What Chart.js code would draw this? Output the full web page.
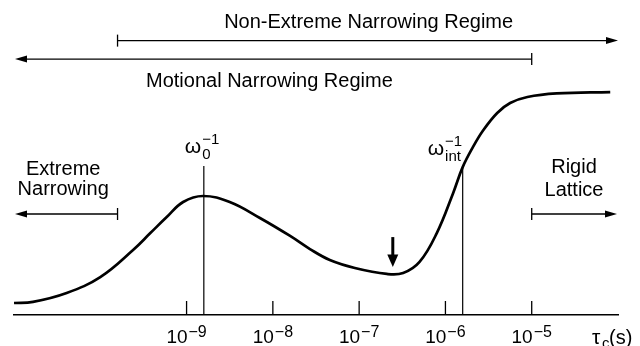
<!DOCTYPE html>
<html lang="en">
<head>
<meta charset="UTF-8">
<title>Relaxation vs correlation time</title>
<style>
  html, body { margin: 0; padding: 0; background: #fff; }
  #wrap { position: relative; width: 640px; height: 346px; }
</style>
</head>
<body>
<div id="wrap"><canvas id="myChart"></canvas></div>
<script src="https://cdn.jsdelivr.net/npm/chart.js"></script>
<script>
// log10 of the correlation time tau_c (s)
var logTau = [-11.0, -10.78, -10.39, -10.0, -9.62, -9.42, -9.23, -9.04, -8.81, -8.50,
              -8.15, -7.80, -7.57, -7.34, -7.05, -6.68, -6.49, -6.30, -6.10, -5.91,
              -5.80, -5.68, -5.56, -5.40, -5.25, -5.05, -4.71, -4.09];
// curve height, arbitrary units (rigid lattice plateau = 1)
var relax = [0.054, 0.059, 0.099, 0.171, 0.293, 0.369, 0.441, 0.509, 0.536, 0.509,
             0.437, 0.356, 0.297, 0.248, 0.212, 0.185, 0.189, 0.239, 0.369, 0.550,
             0.666, 0.757, 0.833, 0.910, 0.955, 0.982, 0.998, 1.004];
// decades with a tick mark and label
var tickDecades = [-9, -8, -7, -6, -5];
var tickExponents = ['\u22129', '\u22128', '\u22127', '\u22126', '\u22125'];
// omega_0^-1 and omega_int^-1 markers
var omega0 = -8.80, omega0Top = 0.671;
var omegaInt = -5.80, omegaIntTop = 0.666;
// regime boundaries
var extremeEdge = -9.8, rigidEdge = -5.0;
// minimum of the curve
var minArrowAt = -6.61;

var FONT = "'Liberation Sans', Arial, Helvetica, sans-serif";

function arrowHead(ctx, x, y, dir) {
  ctx.beginPath();
  ctx.moveTo(x, y);
  ctx.lineTo(x - dir * 12, y - 3.5);
  ctx.lineTo(x - dir * 12, y + 3.5);
  ctx.closePath();
  ctx.fill();
}

// horizontal range arrow; ends are 'head' or 'bar'
function rangeArrow(ctx, x1, x2, y, left, right) {
  ctx.beginPath();
  ctx.moveTo(left === 'head' ? x1 + 6 : x1, y);
  ctx.lineTo(right === 'head' ? x2 - 6 : x2, y);
  ctx.stroke();
  if (left === 'head') arrowHead(ctx, x1, y, -1);
  else { ctx.beginPath(); ctx.moveTo(x1, y - 6); ctx.lineTo(x1, y + 6); ctx.stroke(); }
  if (right === 'head') arrowHead(ctx, x2, y, 1);
  else { ctx.beginPath(); ctx.moveTo(x2, y - 6); ctx.lineTo(x2, y + 6); ctx.stroke(); }
}

function text(ctx, s, x, y, size, align) {
  ctx.font = size + 'px ' + FONT;
  ctx.textAlign = align || 'center';
  ctx.fillText(s, x, y);
}

// omega with superscript -1 and a subscript
function omegaLabel(ctx, x, y, sub) {
  ctx.textAlign = 'left';
  ctx.font = '21px ' + FONT;
  ctx.fillText('\u03c9', x, y);
  var w = ctx.measureText('\u03c9').width + 1;
  ctx.font = '15px ' + FONT;
  ctx.fillText('\u22121', x + w, y - 9);
  ctx.fillText(sub, x + w, y + 6);
}

var annotations = {
  id: 'annotations',
  afterDraw: function (chart) {
    var ctx = chart.ctx;
    var xs = chart.scales.x, ys = chart.scales.y;
    var area = chart.chartArea;
    var px = function (v) { return xs.getPixelForValue(v); };
    var py = function (v) { return ys.getPixelForValue(v); };
    ctx.save();
    ctx.fillStyle = '#000';
    ctx.strokeStyle = '#000';
    ctx.lineWidth = 1.3;
    ctx.textBaseline = 'alphabetic';

    // inward tick marks and decade labels
    tickDecades.forEach(function (d, i) {
      var x = px(d);
      ctx.beginPath();
      ctx.moveTo(x, area.bottom);
      ctx.lineTo(x, area.bottom - 14);
      ctx.stroke();
      ctx.font = '19px ' + FONT;
      var w1 = ctx.measureText('10').width;
      ctx.font = '16px ' + FONT;
      var w2 = ctx.measureText(tickExponents[i]).width;
      var left = x - (w1 + w2 + 1) / 2;
      text(ctx, '10', left, area.bottom + 28, 19, 'left');
      text(ctx, tickExponents[i], left + w1 + 1, area.bottom + 22, 16, 'left');
    });

    // axis title tau_c (s)
    text(ctx, '\u03c4', 592, area.bottom + 29, 21, 'left');
    text(ctx, 'c', 602, area.bottom + 33, 15, 'left');
    text(ctx, '(s)', 609, area.bottom + 29, 20, 'left');

    // regime ranges along the top
    rangeArrow(ctx, px(extremeEdge), px(-4.0), py(1.236), 'bar', 'head');
    text(ctx, 'Non-Extreme Narrowing Regime', px(-6.89), py(1.291), 20);
    rangeArrow(ctx, px(-11.0) + 1, px(rigidEdge), py(1.153), 'head', 'bar');
    text(ctx, 'Motional Narrowing Regime', px(-8.04), py(1.027), 20);

    // limiting regimes at each side
    text(ctx, 'Extreme', px(-10.43), py(0.631), 20);
    text(ctx, 'Narrowing', px(-10.43), py(0.541), 20);
    rangeArrow(ctx, px(-11.0) + 1, px(extremeEdge), py(0.455), 'head', 'bar');
    text(ctx, 'Rigid', px(-4.51), py(0.640), 20);
    text(ctx, 'Lattice', px(-4.51), py(0.536), 20);
    rangeArrow(ctx, px(rigidEdge), px(-4.0) - 1, py(0.455), 'bar', 'head');

    // marker labels
    omegaLabel(ctx, px(omega0) - 19, py(0.729), '0');
    omegaLabel(ctx, px(omegaInt) - 35, py(0.72), 'int');

    // arrow pointing at the minimum
    var ax = px(minArrowAt);
    ctx.lineWidth = 3;
    ctx.beginPath();
    ctx.moveTo(ax, py(0.351));
    ctx.lineTo(ax, py(0.26));
    ctx.stroke();
    ctx.beginPath();
    ctx.moveTo(ax, py(0.216));
    ctx.lineTo(ax - 5.5, py(0.272));
    ctx.lineTo(ax + 5.5, py(0.272));
    ctx.closePath();
    ctx.fill();
    ctx.restore();
  }
};

function markerLine(x, top) {
  return {
    data: [{ x: x, y: 0 }, { x: x, y: top }],
    borderColor: '#000',
    borderWidth: 1.2,
    pointRadius: 0
  };
}

var ctx = document.getElementById('myChart');
var myChart = new Chart(ctx, {
  type: 'line',
  data: {
    datasets: [
      {
        data: logTau.map(function (x, i) { return { x: x, y: relax[i] }; }),
        borderColor: '#000',
        borderWidth: 2.7,
        pointRadius: 0,
        tension: 0.4
      },
      markerLine(omega0, omega0Top),
      markerLine(omegaInt, omegaIntTop)
    ]
  },
  options: {
    responsive: true,
    maintainAspectRatio: false,
    animation: false,
    layout: { padding: { left: 14, right: 22, top: 0, bottom: 31 } },
    plugins: { legend: { display: false }, tooltip: { enabled: false } },
    scales: {
      x: {
        type: 'linear',
        min: -11,
        max: -4,
        grid: { display: false, drawTicks: false },
        ticks: { display: false },
        border: { display: true, color: '#000', width: 1.5 }
      },
      y: { display: false, min: 0, max: 1.419 }
    }
  },
  plugins: [annotations]
});
</script>
</body>
</html>
